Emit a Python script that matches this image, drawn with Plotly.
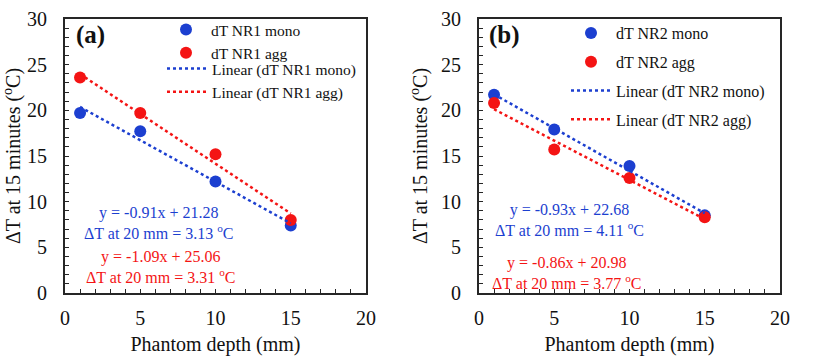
import plotly.graph_objects as go

# ---- data ----
depth = [1, 5, 10, 15]
nr1_mono = [19.7, 17.7, 12.2, 7.4]
nr1_agg = [23.6, 19.7, 15.2, 8.0]
nr2_mono = [21.7, 17.9, 13.9, 8.5]
nr2_agg = [20.8, 15.7, 12.6, 8.3]

# linear fit coefficients as printed on the chart
fit_slope = {"nr1_mono": -0.91, "nr1_agg": -1.09, "nr2_mono": -0.93, "nr2_agg": -0.86}
fit_icpt = {"nr1_mono": 21.28, "nr1_agg": 25.06, "nr2_mono": 22.68, "nr2_agg": 20.98}
dt20 = {"nr1_mono": 3.13, "nr1_agg": 3.31, "nr2_mono": 4.11, "nr2_agg": 3.77}

x_ticks = [0, 5, 10, 15, 20]
y_ticks = [0, 5, 10, 15, 20, 25, 30]

BLUE = "#1c3fd0"
RED = "#f41414"
FONT = "Liberation Serif, Tinos, Times New Roman, DejaVu Serif, serif"

fit_x = [depth[0], depth[-1]]

fig = go.Figure()

def add_panel(nr, mono, agg, xa, ya, leg_markers, leg_lines, grouped):
    def grp(s):
        return dict(legendgroup=s) if grouped else {}
    fig.add_trace(go.Scatter(x=depth, y=mono, mode="markers", name=f"dT {nr} mono",
                             marker=dict(color=BLUE, size=12), xaxis=xa, yaxis=ya,
                             legend=leg_markers, **grp(f"{nr}a")))
    fig.add_trace(go.Scatter(x=depth, y=agg, mode="markers", name=f"dT {nr} agg",
                             marker=dict(color=RED, size=12), xaxis=xa, yaxis=ya,
                             legend=leg_markers, **grp(f"{nr}b")))
    key = nr.lower()
    for kind, col in (("mono", BLUE), ("agg", RED)):
        k = f"{key}_{kind}"
        fy = [fit_slope[k] * v + fit_icpt[k] for v in fit_x]
        fig.add_trace(go.Scatter(x=fit_x, y=fy, mode="lines", name=f"Linear (dT {nr} {kind})",
                                 line=dict(color=col, width=2.5, dash="dot"),
                                 xaxis=xa, yaxis=ya, legend=leg_lines, **grp(f"{nr}{kind}l")))

add_panel("NR1", nr1_mono, nr1_agg, "x", "y", "legend", "legend3", False)
add_panel("NR2", nr2_mono, nr2_agg, "x2", "y2", "legend2", "legend2", True)

axis_common = dict(
    showgrid=False, zeroline=False, showline=True, linecolor="#262626", linewidth=2,
    mirror=True, ticks="inside", ticklen=4, tickwidth=1.2, tickcolor="#262626",
    tickfont=dict(family=FONT, size=20, color="#111"),
    minor=dict(ticks="inside", ticklen=4, tickwidth=1.2, tickcolor="#262626", dtick=1),
    automargin=False,
)

leg_font = dict(family=FONT, size=16, color="#111")
leg_font_a = dict(family=FONT, size=15.5, color="#111")

fig.update_layout(
    width=830, height=362,
    margin=dict(l=65, r=50, t=19, b=69),
    paper_bgcolor="white", plot_bgcolor="white",
    showlegend=True,
    font=dict(family=FONT),
    xaxis=dict(domain=[0, 301 / 715], range=[0, 20], tickvals=x_ticks,
               title=dict(text="Phantom depth (mm)", font=dict(family=FONT, size=20, color="#111"), standoff=9),
               ticklabelstandoff=6, anchor="y", **axis_common),
    yaxis=dict(domain=[0, 1], range=[0, 30], tickvals=y_ticks,
               title=dict(text="ΔT at 15 minutes (<sup>o</sup>C)", font=dict(family=FONT, size=20, color="#111"), standoff=8),
               ticklabelstandoff=12, anchor="x", **axis_common),
    xaxis2=dict(domain=[414 / 715, 1], range=[0, 20], tickvals=x_ticks,
                title=dict(text="Phantom depth (mm)", font=dict(family=FONT, size=20, color="#111"), standoff=9),
                ticklabelstandoff=6, anchor="y2", **axis_common),
    yaxis2=dict(domain=[0, 1], range=[0, 30], tickvals=y_ticks,
                title=dict(text="ΔT at 15 minutes (<sup>o</sup>C)", font=dict(family=FONT, size=20, color="#111"), standoff=8),
                ticklabelstandoff=12, anchor="x2", **axis_common),
    legend=dict(x=(161 - 65) / 715, y=(293 - 13) / 274, xanchor="left", yanchor="top",
                bgcolor="rgba(0,0,0,0)", font=leg_font_a,
                traceorder="normal", tracegroupgap=0, itemwidth=40),
    legend3=dict(x=(162 - 65) / 715, y=(293 - 52) / 274, xanchor="left", yanchor="top",
                 bgcolor="rgba(0,0,0,0)", font=leg_font_a,
                 traceorder="normal", tracegroupgap=0, itemwidth=40),
    legend2=dict(x=(566 - 65) / 715, y=(293 - 16) / 274, xanchor="left", yanchor="top",
                 bgcolor="rgba(0,0,0,0)", font=leg_font,
                 traceorder="grouped", tracegroupgap=5, itemwidth=40),
)

def eq_text(k):
    return (f"y = {fit_slope[k]:.2f}x + {fit_icpt[k]:.2f}<br>"
            f"ΔT at 20 mm = {dt20[k]:.2f} <sup>o</sup>C")

ann = [
    dict(text="<b>(a)</b>", x=1.7, y=28.2, xref="x", yref="y", font=dict(size=25, color="#111")),
    dict(text="<b>(b)</b>", x=1.7, y=28.2, xref="x2", yref="y2", font=dict(size=25, color="#111")),
    dict(text=eq_text("nr1_mono"), x=6.25, y=7.66, xref="x", yref="y", font=dict(size=16, color=BLUE)),
    dict(text=eq_text("nr1_agg"), x=6.41, y=2.85, xref="x", yref="y", font=dict(size=16, color=RED)),
    dict(text=eq_text("nr2_mono"), x=5.98, y=7.95, xref="x2", yref="y2", font=dict(size=16, color=BLUE)),
    dict(text=eq_text("nr2_agg"), x=5.85, y=2.2, xref="x2", yref="y2", font=dict(size=16, color=RED)),
]
for a in ann:
    a.setdefault("showarrow", False)
    a["font"]["family"] = FONT
    fig.add_annotation(**a)

fig.write_html("out.html", config={"displayModeBar": False},
               post_script="document.body.style.margin='0';document.body.style.padding='0';")
